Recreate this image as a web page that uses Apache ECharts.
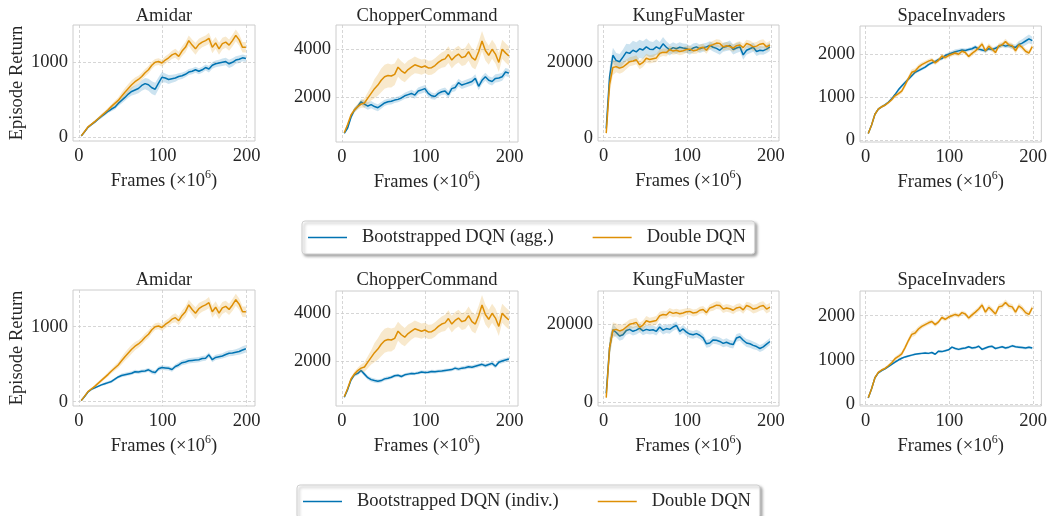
<!DOCTYPE html>
<html><head><meta charset="utf-8">
<script src="https://cdn.jsdelivr.net/npm/echarts@6/dist/echarts.min.js"></script>
<style>html,body{margin:0;padding:0;background:#fff}#c{width:1050px;height:516px}</style>
</head><body><div id="c"></div>
<script>
const frames = [3,7,11,15,19,23,27,31,35,39,43,47,51,55,59,63,67,71,75,79,83,87,91,95,99,103,107,111,115,119,123,127,131,135,139,143,147,151,155,159,163,167,171,175,179,183,187,191,195,199];
const xTicks = [0,100,200];
const games = ['Amidar','ChopperCommand','KungFuMaster','SpaceInvaders'];

// Double DQN (shared by both rows)
const amidarDouble = [15,75,135,170,205,245,285,325,365,410,450,490,545,600,650,700,740,770,810,860,900,960,1000,1010,990,1030,1060,1100,1120,1080,1150,1200,1290,1230,1180,1240,1270,1290,1320,1200,1260,1180,1250,1270,1230,1290,1360,1300,1200,1200];
const amidarDoubleSpread = [5,10,15,15,20,20,25,25,30,30,35,40,50,55,60,60,55,50,50,50,50,50,45,45,45,50,50,55,60,60,65,70,70,75,80,75,70,70,75,80,80,80,80,75,75,80,80,75,70,70];
const chopperDouble = [500,850,1250,1450,1600,1700,1750,1950,2150,2350,2500,2700,2850,2900,2880,2950,3250,3100,3000,3150,3250,3350,3300,3250,3300,3220,3230,3320,3450,3550,3600,3780,3550,3700,3800,3650,3700,3900,3650,3550,3900,4350,3950,3750,4000,3800,3450,4000,3850,3720];
const chopperDoubleSpread = [30,50,80,100,120,150,200,250,300,400,450,500,500,500,480,450,400,400,380,380,350,350,330,320,300,300,300,300,300,320,340,350,350,350,350,350,360,380,400,400,420,420,420,400,400,400,400,400,400,400];
const kungfuDouble = [1200,14000,18500,18700,18300,18600,19300,20000,20200,20500,19200,19800,20900,20600,20800,21000,22200,22500,22400,23200,22800,23000,22700,22900,23200,23300,22900,23000,23600,23800,23000,24200,24500,24900,24800,23900,24200,24000,23600,24200,24400,23700,24800,24500,23900,24100,24600,24800,23900,24400];
const kungfuDoubleSpread = [500,2500,2000,1500,1500,1400,1300,1200,1200,1200,1200,1200,1200,1100,1100,1100,1000,1000,1000,1000,1000,1000,1000,1000,900,900,900,900,900,900,900,900,1000,1000,1000,1000,1000,1000,1000,1000,1000,1000,1000,1100,1100,1100,1100,1100,1100,1100];
const spaceDouble = [150,350,600,720,775,810,870,940,1030,1080,1140,1280,1440,1580,1610,1700,1760,1800,1840,1870,1800,1860,1960,1920,1970,2000,2030,2000,2070,2040,1950,2020,2080,2150,2240,2080,2190,2120,2040,2200,2220,2300,2220,2200,2080,2220,2160,2070,2030,2180];
const spaceDoubleSpread = [10,20,30,30,30,30,35,40,45,50,55,60,65,70,65,60,55,50,50,50,50,50,50,50,50,50,50,50,50,50,55,60,60,60,65,65,65,65,65,65,65,65,65,65,65,65,65,65,65,65];

// Bootstrapped DQN (agg.)
const amidarAgg = [15,70,130,165,200,240,275,310,345,375,400,450,490,530,575,610,630,650,690,715,700,660,640,720,800,790,770,780,790,810,820,840,870,880,900,880,900,930,910,960,980,990,1000,1010,980,1000,1030,1040,1060,1050];
const amidarAggSpread = [5,10,15,15,20,20,25,25,25,30,30,35,40,45,50,55,60,65,70,75,80,85,85,80,70,60,60,55,50,45,45,40,40,40,40,40,40,40,45,45,45,45,50,50,55,55,50,50,45,45];
const chopperAgg = [480,700,1150,1450,1600,1800,1700,1620,1680,1600,1550,1650,1750,1800,1820,1870,1900,1960,2050,2100,2150,2080,2250,2300,2350,2150,2050,2020,2150,2220,2250,2100,2350,2400,2600,2500,2550,2600,2650,2780,2450,2700,2850,2700,2650,2780,2800,2850,3050,3000];
const chopperAggSpread = [30,50,80,100,100,120,150,150,150,150,150,140,130,130,130,120,120,120,130,140,150,150,150,150,150,150,140,140,140,140,150,150,150,160,160,160,160,160,170,170,170,170,170,170,170,170,170,170,170,170];
const kungfuAgg = [2400,16000,21700,20300,20000,21200,22500,22200,23000,22600,23400,23100,23900,23300,23200,23900,23400,24700,23800,23100,23700,23400,23800,23600,23500,23000,23600,23900,23400,23700,23900,24300,23800,23500,23000,23800,24000,24300,23200,23600,23900,21800,23000,23400,23800,22700,23000,22900,23300,23900];
const kungfuAggSpread = [500,2500,2000,2000,2000,2000,2200,2400,2500,2500,2400,2300,2200,2100,2000,2000,1800,1800,1600,1500,1400,1300,1300,1200,1200,1200,1200,1100,1100,1100,1100,1100,1100,1200,1200,1200,1200,1300,1300,1300,1300,1300,1200,1200,1200,1200,1100,1100,1100,1100];
const spaceAgg = [150,350,600,720,775,820,880,960,1060,1170,1260,1340,1420,1500,1580,1620,1660,1700,1760,1800,1830,1880,1900,1970,2000,2030,2060,2080,2100,2090,2110,2130,2170,2120,2100,2080,2130,2110,2140,2180,2220,2190,2210,2180,2160,2230,2260,2310,2360,2320];
const spaceAggSpread = [10,20,30,30,30,30,30,30,35,40,40,40,40,40,40,40,40,40,40,40,40,40,40,45,50,55,55,50,45,45,45,45,45,45,45,45,45,45,45,50,50,50,55,60,70,80,90,100,100,90];

// Bootstrapped DQN (indiv.)
const amidarIndiv = [15,70,130,165,185,205,225,240,255,270,300,330,350,360,370,380,400,395,405,410,425,400,390,440,455,450,445,430,470,490,520,530,545,550,555,560,575,580,625,560,590,600,610,630,645,650,660,670,690,705];
const amidarIndivSpread = [5,10,15,15,15,15,15,20,20,20,20,20,25,25,25,25,25,25,25,25,25,30,30,30,30,30,30,30,30,35,35,35,35,35,35,35,35,35,35,35,35,35,35,40,40,40,40,45,50,50];
const chopperIndiv = [480,800,1200,1420,1480,1600,1450,1300,1220,1180,1150,1180,1250,1280,1320,1380,1400,1350,1420,1450,1480,1470,1500,1540,1520,1530,1560,1550,1570,1580,1600,1620,1640,1700,1660,1700,1720,1760,1740,1780,1820,1860,1800,1850,1900,1780,1950,2000,2040,2080];
const chopperIndivSpread = [30,50,70,80,80,80,90,90,90,90,80,80,80,80,70,70,70,70,70,70,70,70,70,70,70,70,70,70,70,70,70,70,70,80,80,80,80,80,80,80,80,80,80,80,90,90,90,90,90,90];
const kungfuIndiv = [2300,14000,18600,17900,17000,17300,18400,18700,18200,18500,19000,18300,18700,18500,18600,18200,19300,18500,18900,18700,19300,19700,18200,18800,18000,17500,17300,17600,17200,16500,15000,15200,16000,15900,15600,15100,15400,15000,14800,16500,16800,15900,15200,15000,14600,14300,13800,14200,14900,15600];
const kungfuIndivSpread = [500,2500,1500,1200,1200,1200,1100,1100,1100,1100,1100,1100,1100,1100,1100,1100,1100,1100,1100,1100,1000,1000,1000,1000,1000,1000,1000,1000,1000,1000,1000,1000,1000,1000,1000,1000,1000,1000,1000,1000,1000,1000,1000,1000,1000,900,900,900,900,900];
const spaceIndiv = [140,350,600,710,760,800,850,900,950,1000,1040,1070,1090,1110,1130,1140,1150,1160,1150,1170,1130,1200,1190,1210,1230,1290,1260,1240,1260,1270,1300,1270,1280,1310,1240,1270,1300,1310,1260,1280,1300,1270,1290,1320,1300,1290,1280,1270,1290,1270];
const spaceIndivSpread = [10,20,25,25,25,25,25,25,25,25,25,25,25,25,25,25,25,25,25,25,25,25,25,25,25,25,30,30,30,30,30,30,30,30,30,30,30,30,30,30,30,30,30,30,30,30,30,30,30,30];

// y tick labels per panel
const yTicksTop = [[0,1000],[2000,4000],[0,20000],[0,1000,2000]];
const yTicksBottom = [[0,1000],[2000,4000],[0,20000],[0,1000,2000]];

const nameAgg = 'Bootstrapped DQN (agg.)';
const nameIndiv = 'Bootstrapped DQN (indiv.)';
const nameDouble = 'Double DQN';

const BLUE = '#0173b2', ORANGE = '#de8f05';
const BLUE_F = 'rgba(1,115,178,0.2)', ORANGE_F = 'rgba(222,143,5,0.2)';
const FONT = 'Liberation Serif';
const TXT = '#262626';
const FS = 18.5;

// layout
const gridsPx = [
  {left:73, top:25, width:182, height:116},
  {left:336, top:25, width:182, height:117},
  {left:598, top:25, width:181, height:116},
  {left:860, top:26, width:183, height:116},
  {left:73, top:290, width:182, height:116},
  {left:336, top:291, width:182, height:115},
  {left:598, top:291, width:181, height:115},
  {left:860, top:291, width:183, height:115}
];
const yRanges = [[-53,1499],[113,5019],[-868,29658],[-47,2660],[-57,1489],[113,4935],[-949,28538],[-38,2558]];

const panels = [
  {b: amidarAgg, bs: amidarAggSpread, o: amidarDouble, os: amidarDoubleSpread, bn: nameAgg},
  {b: chopperAgg, bs: chopperAggSpread, o: chopperDouble, os: chopperDoubleSpread, bn: nameAgg},
  {b: kungfuAgg, bs: kungfuAggSpread, o: kungfuDouble, os: kungfuDoubleSpread, bn: nameAgg},
  {b: spaceAgg, bs: spaceAggSpread, o: spaceDouble, os: spaceDoubleSpread, bn: nameAgg},
  {b: amidarIndiv, bs: amidarIndivSpread, o: amidarDouble, os: amidarDoubleSpread, bn: nameIndiv},
  {b: chopperIndiv, bs: chopperIndivSpread, o: chopperDouble, os: chopperDoubleSpread, bn: nameIndiv},
  {b: kungfuIndiv, bs: kungfuIndivSpread, o: kungfuDouble, os: kungfuDoubleSpread, bn: nameIndiv},
  {b: spaceIndiv, bs: spaceIndivSpread, o: spaceDouble, os: spaceDoubleSpread, bn: nameIndiv}
];

const grid = [], xAxis = [], yAxis = [], series = [], title = [];
const splitLine = {show:true, lineStyle:{color:'#cccccc', width:0.8, type:[3,2]}};
const fmt = v => String(v);

panels.forEach((p, gi) => {
  const g = gridsPx[gi];
  grid.push(Object.assign({show:true, borderColor:'#cccccc', borderWidth:1, backgroundColor:'#fff'}, g));
  title.push({text: games[gi % 4], left: g.left + g.width/2, top: gi < 4 ? 7 : 271, textAlign:'center', padding:0,
    textStyle:{fontFamily:FONT, fontSize:FS, fontWeight:'normal', color:TXT}});
  xAxis.push({type:'value', gridIndex:gi, min:-6.85, max:209.85,
    axisLine:{show:false}, axisTick:{show:false, customValues:xTicks},
    axisLabel:{customValues:xTicks, formatter:fmt, margin:6, fontFamily:FONT, fontSize:FS, color:TXT},
    splitLine: splitLine,
    name:'Frames (×10{s|6})', nameLocation:'middle', nameGap:28,
    nameTextStyle:{fontFamily:FONT, fontSize:FS, color:TXT, lineHeight:24,
      rich:{s:{fontFamily:FONT, fontSize:12, color:TXT, lineHeight:10, verticalAlign:'top'}}}
  });
  const yt = gi < 4 ? yTicksTop[gi] : yTicksBottom[gi-4];
  const ya = {type:'value', gridIndex:gi, min:yRanges[gi][0], max:yRanges[gi][1],
    axisLine:{show:false}, axisTick:{show:false, customValues:yt},
    axisLabel:{customValues:yt, formatter:fmt, margin:5, fontFamily:FONT, fontSize:FS, color:TXT},
    splitLine: splitLine};
  if (gi % 4 === 0) {
    Object.assign(ya, {name:'Episode Return', nameLocation:'middle', nameGap:43, nameRotate:90,
      nameTextStyle:{fontFamily:FONT, fontSize:FS, color:TXT}});
  }
  yAxis.push(ya);

  const addBand = (mean, spread, fill, z) => {
    const lo = mean.map((v,i)=>v - spread[i]);
    const hi = mean.map((v,i)=>v + spread[i]);
    series.push({type:'custom', xAxisIndex:gi, yAxisIndex:gi, silent:true, z:z,
      data: frames.map((f,i)=>[f, lo[i], hi[i]]),
      encode:{x:0, y:[1,2]},
      clip:true,
      renderItem:(params, api) => {
        if (params.dataIndex !== 0) return null;
        const up = frames.map((f,i)=>api.coord([f, hi[i]]));
        const dn = frames.map((f,i)=>api.coord([f, lo[i]])).reverse();
        const cs = params.coordSys;
        return {type:'polygon', shape:{points: up.concat(dn)},
          style:{fill:fill, stroke:null},
          clipPath:{type:'rect', shape:{x:cs.x, y:cs.y, width:cs.width, height:cs.height}}};
      }});
  };
  addBand(p.b, p.bs, BLUE_F, 1);
  series.push({type:'line', name:p.bn, xAxisIndex:gi, yAxisIndex:gi, symbol:'none', color:BLUE,
    lineStyle:{color:BLUE, width:1.5}, z:2, data: p.b.map((v,i)=>[frames[i], v])});
  addBand(p.o, p.os, ORANGE_F, 3);
  series.push({type:'line', name:nameDouble, xAxisIndex:gi, yAxisIndex:gi, symbol:'none', color:ORANGE,
    lineStyle:{color:ORANGE, width:1.5}, z:4, data: p.o.map((v,i)=>[frames[i], v])});
});

const legendBase = {orient:'horizontal', icon:'rect', itemWidth:39, itemHeight:1.6, itemGap:39,
  padding:[7,9,7,6], backgroundColor:'#fff', borderColor:'#d0d0d0', borderWidth:1, borderRadius:3,
  shadowBlur:3, shadowOffsetX:2, shadowOffsetY:2, shadowColor:'rgba(0,0,0,0.35)',
  selectedMode:false,
  textStyle:{fontFamily:FONT, fontSize:FS, color:TXT, lineHeight:18, padding:[0,0,0,10]}};

const option = {
  animation:false,
  backgroundColor:'#fff',
  title, grid, xAxis, yAxis, series,
  legend:[
    Object.assign({}, legendBase, {left:302, top:221, data:[nameAgg, nameDouble]}),
    Object.assign({}, legendBase, {left:297, top:485, data:[nameIndiv, nameDouble]})
  ]
};
const chart = echarts.init(document.getElementById('c'), null, {renderer:'canvas'});
chart.setOption(option);
</script>
</body></html>
